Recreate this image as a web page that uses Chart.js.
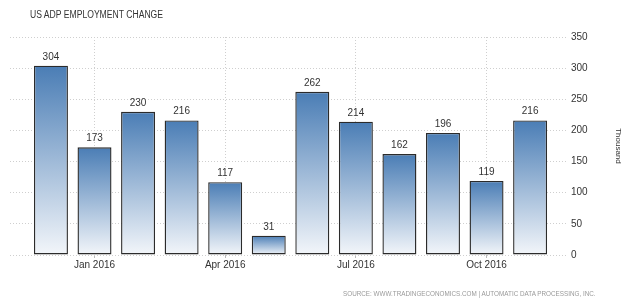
<!DOCTYPE html>
<html>
<head>
<meta charset="utf-8">
<script src="https://cdn.jsdelivr.net/npm/chart.js@4.4.1/dist/chart.umd.min.js"></script>
<style>
  html, body { margin: 0; padding: 0; background: #fff; }
  #wrap { position: relative; width: 635px; height: 304px; overflow: hidden; }
  #graph { position: absolute; left: 0; top: 0; }
  #title {
    position: absolute; left: 30px; top: 9px;
    font: 10px "Liberation Sans", Arial, sans-serif; color: #333;
    transform: scaleX(0.86); transform-origin: left top; white-space: nowrap;
  }
  #source {
    position: absolute; left: 343px; top: 289px;
    font: 8px "Liberation Sans", Arial, sans-serif; color: #999;
    transform: scaleX(0.79); transform-origin: left top; white-space: nowrap;
  }
</style>
</head>
<body>
<div id="wrap">
  <canvas id="graph" width="635" height="304"></canvas>
  <div id="title">US ADP EMPLOYMENT CHANGE</div>
  <div id="source">SOURCE: WWW.TRADINGECONOMICS.COM | AUTOMATIC DATA PROCESSING, INC.</div>
</div>
<script>
const months = ['Dec 2015', 'Jan 2016', 'Feb 2016', 'Mar 2016', 'Apr 2016', 'May 2016',
  'Jun 2016', 'Jul 2016', 'Aug 2016', 'Sep 2016', 'Oct 2016', 'Nov 2016'];
const employmentChange = [304, 173, 230, 216, 117, 31, 262, 214, 162, 196, 119, 216];
const xTickLabels = ['Jan 2016', 'Apr 2016', 'Jul 2016', 'Oct 2016'];
const yTicks = [0, 50, 100, 150, 200, 250, 300, 350];

const ctx = document.getElementById('graph');

function convertToXY(values) {
  return values.map((y, i) => ({ x: i, y: y }));
}

// gradient per bar: blue at the top, almost white at the base
function barGradient(c) {
  const chart = c.chart;
  const yScale = chart.scales.y;
  if (!yScale || !c.parsed) return '#6b98c6';
  const top = yScale.getPixelForValue(c.parsed.y);
  const base = yScale.getPixelForValue(0);
  if (!isFinite(top) || !isFinite(base) || top === base) return '#6b98c6';
  const g = chart.ctx.createLinearGradient(0, top, 0, base);
  g.addColorStop(0, '#4a7db5');
  g.addColorStop(1, '#f3f6fa');
  return g;
}

const valueLabels = {
  id: 'valueLabels',
  afterDatasetsDraw(chart) {
    const c = chart.ctx;
    const meta = chart.getDatasetMeta(0);
    c.save();
    c.font = '10px "Liberation Sans", Arial, sans-serif';
    c.fillStyle = '#333';
    c.textAlign = 'center';
    c.textBaseline = 'alphabetic';
    meta.data.forEach((bar, i) => {
      c.fillText(String(employmentChange[i]), bar.x, bar.y - 6);
    });
    c.restore();
  }
};

const tickFont = { family: '"Liberation Sans", Arial, sans-serif', size: 10 };

new Chart(ctx, {
  type: 'bar',
  data: {
    datasets: [{
      label: 'US ADP Employment Change',
      data: convertToXY(employmentChange),
      backgroundColor: barGradient,
      borderColor: '#2b2b2b',
      borderWidth: 1.4,
      borderSkipped: false,
      barPercentage: 0.78,
      categoryPercentage: 1
    }]
  },
  options: {
    responsive: false,
    animation: false,
    events: [],
    layout: { padding: { left: 10, right: 0, top: 37, bottom: 29 } },
    plugins: {
      legend: { display: false },
      tooltip: { enabled: false },
      title: { display: false }
    },
    scales: {
      x: {
        type: 'linear',
        offset: false,
        min: -0.94,
        max: 11.87,
        afterBuildTicks: (scale) => {
          scale.ticks = xTickLabels.map(l => ({ value: months.indexOf(l) }));
        },
        afterFit: (scale) => { scale.height = 20; },
        ticks: {
          font: tickFont,
          color: '#333',
          padding: 1,
          maxRotation: 0,
          autoSkip: false,
          callback: (v) => months[v]
        },
        grid: { offset: false, color: '#cfcfcf', tickLength: 3, tickColor: '#bbb' },
        border: { display: false, dash: [1, 2] }
      },
      y: {
        position: 'right',
        min: 0,
        max: 350,
        afterBuildTicks: (scale) => {
          scale.ticks = yTicks.map(v => ({ value: v }));
        },
        afterFit: (scale) => { scale.width = 67; },
        ticks: { font: tickFont, color: '#333', padding: 3 },
        grid: { color: '#cfcfcf', drawTicks: false },
        border: { display: false, dash: [1, 2] },
        title: {
          display: true,
          text: 'Thousand',
          font: { family: '"Liberation Sans", Arial, sans-serif', size: 8 },
          color: '#333',
          padding: { top: 12, bottom: 0 }
        }
      }
    }
  },
  plugins: [valueLabels]
});
</script>
</body>
</html>
